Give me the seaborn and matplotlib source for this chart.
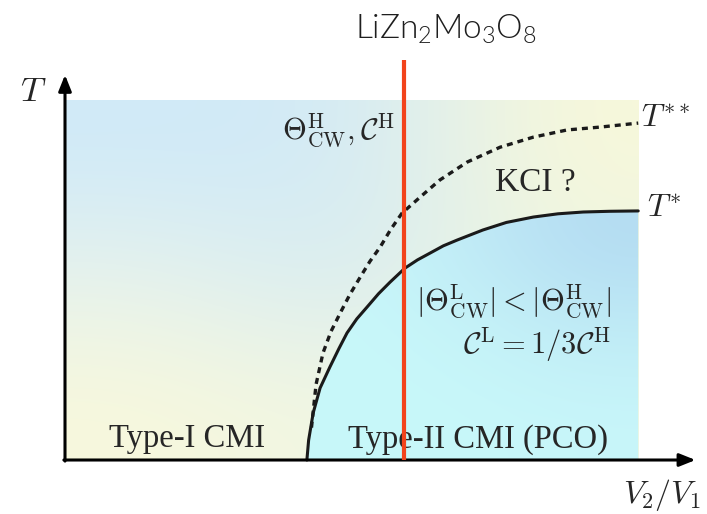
import numpy as np
import matplotlib
matplotlib.use("Agg")
import matplotlib.pyplot as plt
import seaborn as sns
from matplotlib.colors import to_rgb
from matplotlib.patches import Polygon

sns.set_theme(style="white")
plt.rcParams["mathtext.fontset"] = "cm"
plt.rcParams["font.family"] = ["Liberation Serif", "DejaVu Serif"]

# phase boundaries (x = V2/V1, y = T, arbitrary units)
solid_x = [4.22, 4.25, 4.33, 4.45, 4.62, 4.78, 4.92, 5.09, 5.27, 5.47, 5.67, 5.93, 6.15,
           6.37, 6.60, 6.84, 7.29, 7.70, 8.17, 8.60, 9.04, 9.50, 10.0]
solid_y = [0.0, 0.55, 1.31, 2.00, 2.58, 3.10, 3.53, 3.92, 4.25, 4.62, 4.94, 5.33, 5.56,
           5.75, 5.95, 6.11, 6.39, 6.60, 6.75, 6.84, 6.89, 6.91, 6.92]
dash_x = [4.30, 4.38, 4.50, 4.64, 4.80, 4.97, 5.15, 5.32, 5.50, 5.68, 5.88, 6.20, 6.54,
          7.02, 7.59, 8.17, 8.76, 9.34, 10.0]
dash_y = [0.90, 2.10, 2.97, 3.57, 4.08, 4.60, 5.08, 5.52, 5.92, 6.40, 6.86, 7.31, 7.78,
          8.28, 8.69, 8.97, 9.17, 9.25, 9.36]
material_x = 5.92

fig = plt.figure(figsize=(7.07, 5.14), dpi=100)
ax = fig.add_axes([0, 0, 1, 1])
ax.set_xlim(-1.134, 11.2)
ax.set_ylim(-1.5, 12.78)
ax.axis("off")

# background gradient
def grad(rows):
    return np.array([[to_rgb(c) for c in r] for r in rows])

bg = grad([["#f8f8dc", "#f0f6e4", "#f4f8e0"],
           ["#e8f3ec", "#d6ecf2", "#eef6e2"],
           ["#d0eaf8", "#d2eaf6", "#f8f8da"]])
ax.imshow(bg, extent=[0, 10, 0, 10], origin="lower", interpolation="bicubic",
          aspect="auto", zorder=0)

low = grad([["#c8f8fa", "#c8f8fa", "#c8f6fa"],
            ["#c8f8fa", "#c6f4f8", "#c0ecf6"],
            ["#c8f6fa", "#c0eaf6", "#b4dcf2"]])
im = ax.imshow(low, extent=[4.2, 10, 0, 7], origin="lower", interpolation="bicubic",
               aspect="auto", zorder=1)
poly = Polygon(list(zip(solid_x, solid_y)) + [(10, 0)], closed=True,
               transform=ax.transData, facecolor="none", edgecolor="none")
ax.add_patch(poly)
im.set_clip_path(poly)

# phase boundaries
sns.lineplot(x=solid_x, y=solid_y, ax=ax, color="#1a1a1a", lw=2.2,
             estimator=None, sort=False, zorder=3)
sns.lineplot(x=dash_x, y=dash_y, ax=ax, color="#1a1a1a", lw=2.4,
             estimator=None, sort=False, zorder=3)
ax.lines[-1].set_dashes([1.8, 1.5])
for ln in ax.lines:
    ln.set_solid_joinstyle("round")

# axes arrows
arrow = dict(arrowstyle="-|>,head_length=0.8,head_width=0.32", color="black", lw=2.2,
             shrinkA=0, shrinkB=0)
ax.annotate("", xy=(11.0, 0), xytext=(-0.02, 0), arrowprops=arrow, zorder=4)
ax.annotate("", xy=(0, 10.7), xytext=(0, -0.03), arrowprops=arrow, zorder=4)

# material line
ax.plot([material_x, material_x], [0, 11.1], color="#f2431c", lw=3, zorder=5,
        solid_capstyle="butt")

ax.text(6.65, 11.95, "LiZn$\\mathregular{_2}$Mo$\\mathregular{_3}$O$\\mathregular{_8}$",
        ha="center", va="center", fontsize=24, color="#1e1e1e",
        family=["Lato", "DejaVu Sans"], fontweight=300)

ax.text(-0.56, 10.2, "$T$", ha="center", va="center", fontsize=25)
ax.text(10.42, -0.98, "$V_2/V_1$", ha="center", va="center", fontsize=23)

ax.text(5.75, 9.15, r"$\Theta^{\rm H}_{\rm CW}, \mathcal{C}^{\rm H}$", ha="right",
        va="center", fontsize=22)
ax.text(8.2, 7.69, "KCI ?", ha="center", va="center", fontsize=24)
ax.text(10.05, 9.45, "$T^{**}$", ha="left", va="center", fontsize=23)
ax.text(10.15, 6.95, "$T^{*}$", ha="left", va="center", fontsize=23)
ax.text(9.53, 4.4, r"$|\Theta^{\rm L}_{\rm CW}| < |\Theta^{\rm H}_{\rm CW}|$",
        ha="right", va="center", fontsize=22)
ax.text(9.53, 3.22, r"$\mathcal{C}^{\rm L} = 1/3\mathcal{C}^{\rm H}$",
        ha="right", va="center", fontsize=22)
ax.text(2.13, 0.58, "Type-I CMI", ha="center", va="center", fontsize=23.5)
ax.text(7.21, 0.58, "Type-II CMI (PCO)", ha="center", va="center", fontsize=23.5)

fig.savefig("out.png", dpi=100)
